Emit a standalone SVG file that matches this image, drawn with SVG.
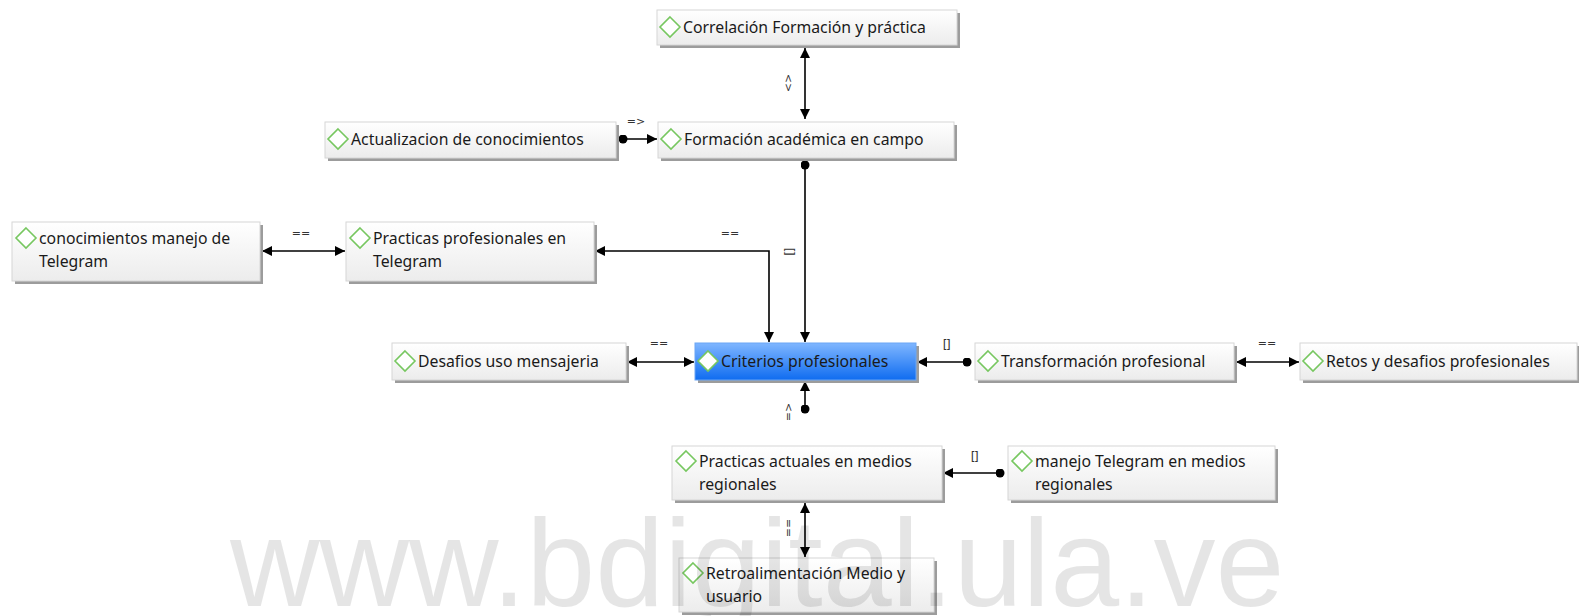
<svg xmlns="http://www.w3.org/2000/svg" width="1579" height="616" viewBox="0 0 1579 616">
<defs>
<linearGradient id="gGray" x1="0" y1="0" x2="0" y2="1"><stop offset="0" stop-color="#ffffff"/><stop offset="1" stop-color="#ececec"/></linearGradient>
<linearGradient id="gBlue" x1="0" y1="0" x2="0" y2="1"><stop offset="0" stop-color="#7fb6ff"/><stop offset="1" stop-color="#0f6cf0"/></linearGradient>
<marker id="arr" viewBox="0 0 10 10" refX="10" refY="5" markerWidth="10" markerHeight="10" markerUnits="userSpaceOnUse" orient="auto-start-reverse"><path d="M0,0 L10,5 L0,10 z" fill="#000"/></marker>
<marker id="dot" viewBox="0 0 10 10" refX="5" refY="5" markerWidth="9" markerHeight="9" markerUnits="userSpaceOnUse"><circle cx="5" cy="5" r="5" fill="#000"/></marker>
</defs>
<style>
.shadow{fill:#9c9c9c}
.box{fill:url(#gGray);stroke:#d6d6d6;stroke-width:1}
.sel{fill:url(#gBlue);stroke:#6aa6f5;stroke-width:1}
.ico{fill:#fff;stroke:#77c760;stroke-width:1.6}
.t{font-family:"Noto Sans","DejaVu Sans",sans-serif;font-size:15.8px;fill:#1a1a1a}
.ln{fill:none;stroke:#000;stroke-width:1.6}
.lb{font-family:"DejaVu Sans",sans-serif;font-size:11px;fill:#333}
.br{font-family:"DejaVu Sans",sans-serif;font-size:12px;fill:#333;letter-spacing:-1.5px}
.wm{font-family:"Liberation Sans",Arial,sans-serif;font-size:124px;fill:#000;fill-opacity:0.1}
</style>
<rect width="1579" height="616" fill="#fff"/>
<g id="connectors">
<path class="ln" d="M805,48 V119" marker-start="url(#arr)" marker-end="url(#arr)"/>
<path class="ln" d="M623,139 H657" marker-start="url(#dot)" marker-end="url(#arr)"/>
<path class="ln" d="M805,165 V342" marker-start="url(#dot)" marker-end="url(#arr)"/>
<path class="ln" d="M769,342 V251 H595" marker-start="url(#arr)" marker-end="url(#arr)"/>
<path class="ln" d="M262,251 H345" marker-start="url(#arr)" marker-end="url(#arr)"/>
<path class="ln" d="M627,362 H694" marker-start="url(#arr)" marker-end="url(#arr)"/>
<path class="ln" d="M967,362 H917" marker-start="url(#dot)" marker-end="url(#arr)"/>
<path class="ln" d="M1236,362 H1299" marker-start="url(#arr)" marker-end="url(#arr)"/>
<path class="ln" d="M805,409 V381" marker-start="url(#dot)" marker-end="url(#arr)"/>
<path class="ln" d="M1000,473 H943" marker-start="url(#dot)" marker-end="url(#arr)"/>
<path class="ln" d="M805,503 V557" marker-start="url(#arr)" marker-end="url(#arr)"/>
<text class="lb" transform="translate(785,83) rotate(90)" text-anchor="middle">&lt;&gt;</text>
<text class="lb" x="636" y="125" text-anchor="middle">=&gt;</text>
<text class="br" transform="translate(785,251) rotate(90)" text-anchor="middle">[]</text>
<text class="lb" x="730" y="237" text-anchor="middle">==</text>
<text class="lb" x="301" y="237" text-anchor="middle">==</text>
<text class="lb" x="659" y="347" text-anchor="middle">==</text>
<text class="br" x="946" y="349" text-anchor="middle">[]</text>
<text class="lb" x="1267" y="347" text-anchor="middle">==</text>
<text class="lb" transform="translate(792,412) rotate(-90)" text-anchor="middle">=&gt;</text>
<text class="br" x="974" y="461" text-anchor="middle">[]</text>
<text class="lb" transform="translate(785,528) rotate(90)" text-anchor="middle">==</text>
</g>
<g id="n1"><rect class="shadow" x="660" y="13" width="300" height="35"/><rect class="box" x="657" y="10" width="300" height="35"/><path class="ico" d="M670,17 L680,27 L670,37 L660,27 z"/><text class="t" x="683" y="33">Correlación Formación y práctica</text></g>
<g id="n2"><rect class="shadow" x="661" y="125" width="296" height="36"/><rect class="box" x="658" y="122" width="296" height="36"/><path class="ico" d="M671,129 L681,139 L671,149 L661,139 z"/><text class="t" x="684" y="145">Formación académica en campo</text></g>
<g id="n3"><rect class="shadow" x="328" y="125" width="291" height="36"/><rect class="box" x="325" y="122" width="291" height="36"/><path class="ico" d="M338,129 L348,139 L338,149 L328,139 z"/><text class="t" x="351" y="145">Actualizacion de conocimientos</text></g>
<g id="n4"><rect class="shadow" x="15" y="225" width="248" height="59"/><rect class="box" x="12" y="222" width="248" height="59"/><path class="ico" d="M26,228 L36,238 L26,248 L16,238 z"/><text class="t" x="39" y="244">conocimientos manejo de</text><text class="t" x="39" y="267">Telegram</text></g>
<g id="n5"><rect class="shadow" x="349" y="225" width="248" height="59"/><rect class="box" x="346" y="222" width="248" height="59"/><path class="ico" d="M360,228 L370,238 L360,248 L350,238 z"/><text class="t" x="373" y="244">Practicas profesionales en</text><text class="t" x="373" y="267">Telegram</text></g>
<g id="n6"><rect class="shadow" x="395" y="346" width="234" height="37"/><rect class="box" x="392" y="343" width="234" height="37"/><path class="ico" d="M405,351 L415,361 L405,371 L395,361 z"/><text class="t" x="418" y="367">Desafios uso mensajeria</text></g>
<g id="n7"><rect class="shadow" x="698" y="346" width="221" height="37"/><rect class="sel" x="695" y="343" width="221" height="37"/><path class="ico" d="M708,351 L718,361 L708,371 L698,361 z"/><text class="t" x="721" y="367">Criterios profesionales</text></g>
<g id="n8"><rect class="shadow" x="978" y="346" width="259" height="37"/><rect class="box" x="975" y="343" width="259" height="37"/><path class="ico" d="M988,351 L998,361 L988,371 L978,361 z"/><text class="t" x="1001" y="367">Transformación profesional</text></g>
<g id="n9"><rect class="shadow" x="1303" y="346" width="277" height="37"/><rect class="box" x="1300" y="343" width="277" height="37"/><path class="ico" d="M1313,351 L1323,361 L1313,371 L1303,361 z"/><text class="t" x="1326" y="367">Retos y desafios profesionales</text></g>
<g id="n10"><rect class="shadow" x="675" y="449" width="270" height="54"/><rect class="box" x="672" y="446" width="270" height="54"/><path class="ico" d="M686,451 L696,461 L686,471 L676,461 z"/><text class="t" x="699" y="467">Practicas actuales en medios</text><text class="t" x="699" y="490">regionales</text></g>
<g id="n11"><rect class="shadow" x="1011" y="449" width="267" height="54"/><rect class="box" x="1008" y="446" width="267" height="54"/><path class="ico" d="M1022,451 L1032,461 L1022,471 L1012,461 z"/><text class="t" x="1035" y="467">manejo Telegram en medios</text><text class="t" x="1035" y="490">regionales</text></g>
<g id="n12"><rect class="shadow" x="682" y="561" width="255" height="54"/><rect class="box" x="679" y="558" width="255" height="54"/><path class="ico" d="M693,563 L703,573 L693,583 L683,573 z"/><text class="t" x="706" y="579">Retroalimentación Medio y</text><text class="t" x="706" y="602">usuario</text></g>
<text class="wm" x="230" y="606">www.bdigital.ula.ve</text>
</svg>
